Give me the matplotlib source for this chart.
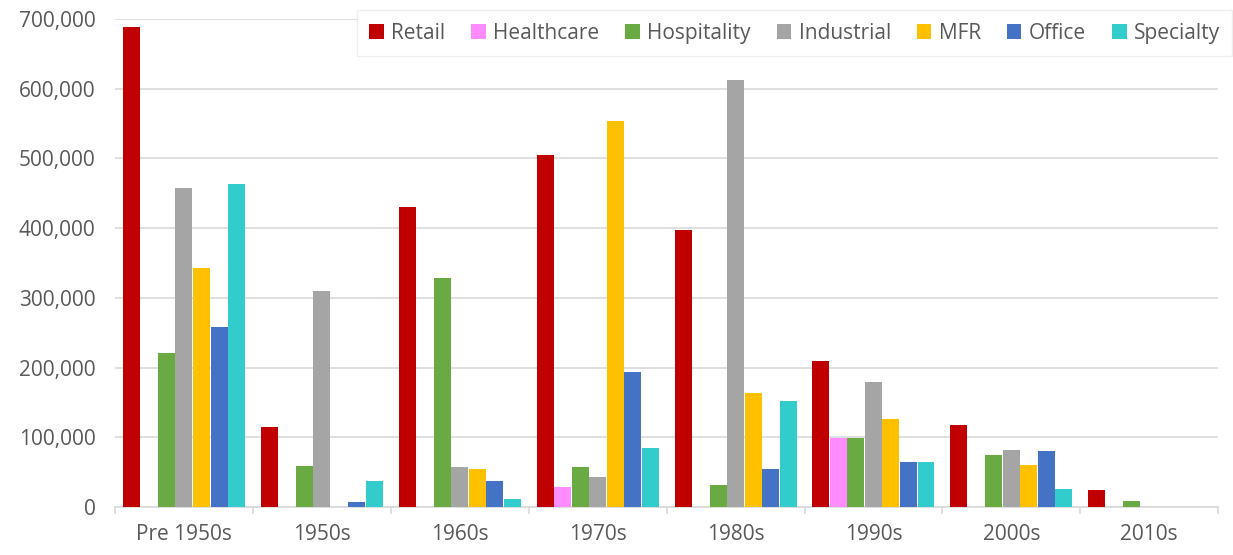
import numpy as np
import matplotlib
matplotlib.use('Agg')
import matplotlib.pyplot as plt
import matplotlib.ticker as ticker

decades = ['Pre 1950s', '1950s', '1960s', '1970s', '1980s', '1990s', '2000s', '2010s']

retail      = [689000, 115000, 431000, 505000, 398000, 209000, 118000, 24000]
healthcare  = [0, 0, 0, 28000, 0, 99000, 0, 0]
hospitality = [221000, 59000, 328000, 58000, 32000, 99000, 75000, 8000]
industrial  = [457000, 310000, 57000, 43000, 613000, 179000, 82000, 0]
mfr         = [343000, 0, 55000, 553000, 164000, 126000, 60000, 0]
office      = [258000, 7000, 38000, 194000, 54000, 64000, 80000, 0]
specialty   = [464000, 38000, 12000, 84000, 152000, 64000, 26000, 0]

series_names = ['Retail', 'Healthcare', 'Hospitality', 'Industrial', 'MFR', 'Office', 'Specialty']
series_vals = [retail, healthcare, hospitality, industrial, mfr, office, specialty]
colors = ['#C00000', '#FF8CFF', '#6AAA42', '#A5A5A5', '#FFC000', '#4472C4', '#33CCCC']

plt.rcParams['font.family'] = ['Open Sans', 'DejaVu Sans']

fig = plt.figure(figsize=(12.33, 5.55), dpi=100)
ax = fig.add_axes([0.0933, 0.0865, 0.8947, 0.8793])

x = np.arange(len(decades))
width = 0.127
for i, (name, vals, c) in enumerate(zip(series_names, series_vals, colors)):
    ax.bar(x + (i - 3) * width, vals, width * 0.97, color=c, label=name, zorder=3)

ax.set_xlim(-0.5, len(decades) - 0.5)
ax.set_ylim(0, 700000)
ax.yaxis.set_major_locator(ticker.MultipleLocator(100000))
ax.yaxis.set_major_formatter(ticker.FuncFormatter(lambda v, p: f'{int(v):,}'))
ax.grid(axis='y', color='#D9D9D9', linewidth=1.2, zorder=0)
ax.tick_params(axis='y', length=0, labelsize=15, labelcolor='#595959', pad=14)

ax.set_xticks(x)
ax.set_xticklabels(decades)
ax.set_xticks(np.arange(-0.5, len(decades)), minor=True)
ax.tick_params(axis='x', which='major', length=0, labelsize=15, labelcolor='#595959', pad=12)
ax.tick_params(axis='x', which='minor', length=5, color='#D9D9D9', width=1.2)

for s in ['top', 'right', 'left']:
    ax.spines[s].set_visible(False)
ax.spines['bottom'].set_color('#D9D9D9')
ax.spines['bottom'].set_linewidth(1.2)

# legend box runs up to the right edge of the figure
leg = ax.legend(loc='upper right', bbox_to_anchor=(1.008, 1.0), bbox_transform=fig.transFigure,
                ncol=7, fontsize=15, frameon=True, fancybox=False, handlelength=0.7,
                handleheight=0.7, handletextpad=0.35, columnspacing=1.25,
                borderpad=0.6, labelcolor='#595959')
leg.get_frame().set_edgecolor('#EEEEEE')
leg.get_frame().set_facecolor('white')
leg.get_frame().set_alpha(1)
leg.set_zorder(5)

fig.savefig('out.png', dpi=100)
